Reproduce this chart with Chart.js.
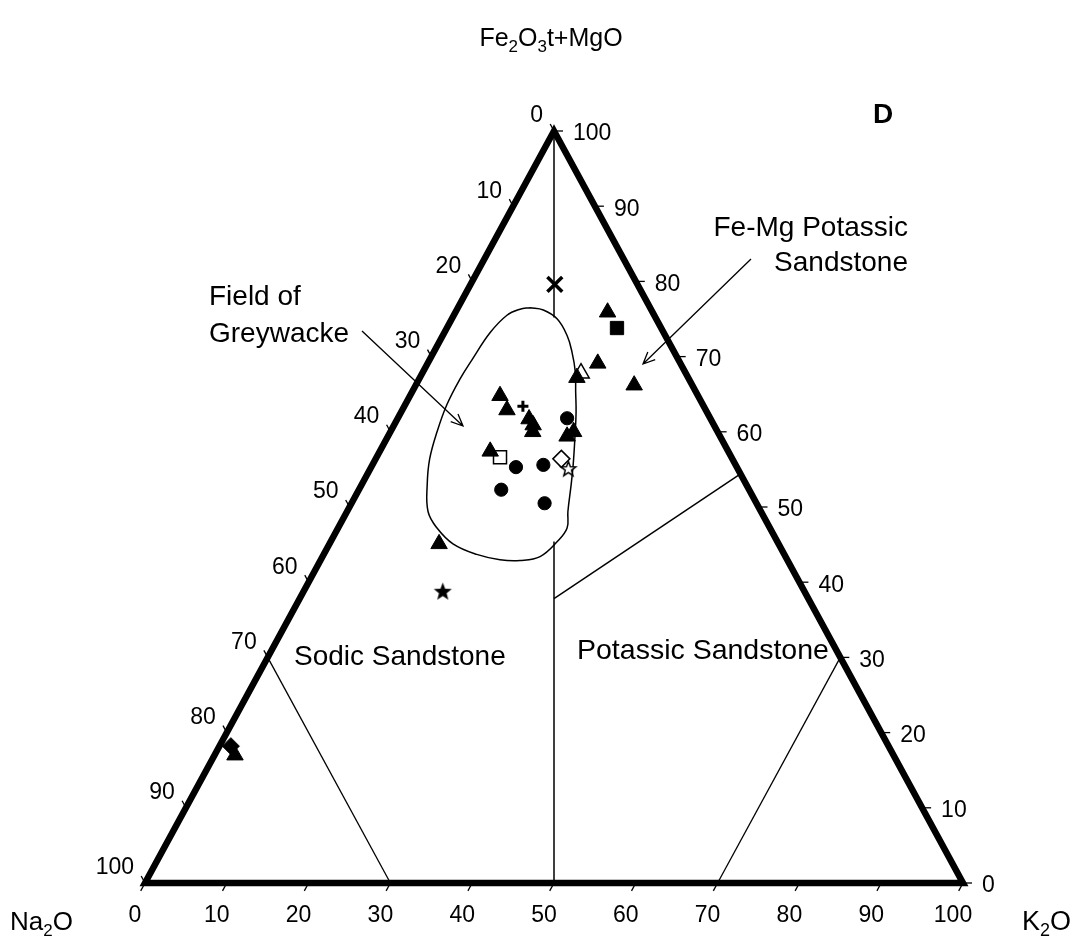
<!DOCTYPE html>
<html>
<head>
<meta charset="utf-8">
<script src="https://cdn.jsdelivr.net/npm/chart.js@4.4.1/dist/chart.umd.min.js"></script>
<style>
  html, body { margin: 0; padding: 0; background: #fff; }
  #wrap { width: 1076px; height: 947px; }
</style>
</head>
<body>
<div id="wrap"><canvas id="chart" width="1076" height="947"></canvas></div>
<script>
// Tick values shared by the three composition axes (wt%)
const ternaryTicks = [0, 10, 20, 30, 40, 50, 60, 70, 80, 90, 100];

// Samples as [Na2O, K2O, Fe2O3t+MgO], grouped by plotting symbol
const filledTriangles = [
  [5.5, 18.6, 75.9], [10.1, 20.8, 69.1], [13.6, 19.2, 67.2], [7.1, 26.7, 66.2],
  [24.2, 11.0, 64.8], [24.3, 12.8, 62.9], [22.2, 16.1, 61.7], [22.1, 17.0, 60.9],
  [22.6, 17.4, 60.0], [18.7, 21.9, 59.4], [17.6, 22.4, 60.0], [29.1, 13.5, 57.4],
  [41.5, 13.4, 45.1], [80.5, 2.5, 17.0]
];
const openTriangles = [[12.8, 19.4, 67.8]];
const filledSquares = [[5.4, 20.8, 73.8]];
const openSquares = [[28.3, 15.1, 56.6]];
const filledCircles = [
  [17.5, 20.7, 61.8], [27.0, 17.7, 55.3], [23.5, 20.9, 55.6], [30.3, 17.4, 52.3], [25.9, 23.6, 50.5]
];
const openDiamonds = [[20.9, 22.7, 56.4]];
const filledDiamonds = [[80.4, 1.4, 18.2]];
const openStars = [[20.7, 24.2, 55.1]];
const filledStars = [[44.2, 17.0, 38.8]];
const crosses = [[10.1, 10.3, 79.6]];
const plusSigns = [[22.1, 14.5, 63.4]];

// Outline of the greywacke field [Na2O, K2O, Fe2O3t+MgO]
const greywackeField = [
  [14.7, 8.8, 76.5], [13.2, 10.6, 76.2], [12.1, 12.9, 75.0], [12.0, 15.2, 72.8],
  [12.5, 16.9, 70.6], [13.4, 18.6, 68.0], [14.7, 20.0, 65.3], [16.0, 21.4, 62.6],
  [17.9, 23.0, 59.1], [19.8, 24.5, 55.7], [21.4, 25.6, 53.0], [23.6, 27.0, 49.4],
  [24.8, 28.0, 47.2], [26.9, 27.7, 45.4], [30.0, 26.6, 43.4], [32.7, 24.4, 42.9],
  [35.1, 21.9, 43.0], [37.6, 18.7, 43.7], [39.8, 15.1, 45.1], [40.7, 12.1, 47.2],
  [40.7, 9.9, 49.4], [39.0, 8.0, 53.0], [37.0, 6.6, 56.4], [34.3, 5.7, 60.0],
  [31.3, 5.1, 63.6], [28.0, 5.0, 67.0], [25.1, 5.2, 69.7], [21.2, 5.6, 73.2],
  [18.0, 6.5, 75.5], [16.0, 7.7, 76.3], [14.7, 8.8, 76.5]
];

// Frame and classification boundaries [Na2O, K2O, Fe2O3t+MgO]
const triangleFrame = [[50, 50, 0], [0, 100, 0], [0, 0, 100], [100, 0, 0], [50, 50, 0]];
const ratioLineUpper = [[0, 0, 100], [12.4, 12.4, 75.2]];
const ratioLineLower = [[27.3, 27.3, 45.4], [50, 50, 0]];
const feMgPotassicLine = [[31.1, 31.1, 37.8], [0, 45.6, 54.4]];
const sodicLine = [[70, 0, 30], [70, 30, 0]];
const potassicLine = [[0, 70, 30], [30, 70, 0]];

// ternary -> cartesian (x along the K2O base, y = Fe2O3t+MgO)
const toXY = p => ({ x: p[1] + p[2] / 2, y: p[2] });

function starImage(outer, inner, fill, stroke, lw) {
  const size = Math.ceil(outer * 2 + lw * 2 + 2);
  const c = document.createElement('canvas');
  c.width = size; c.height = size;
  const g = c.getContext('2d');
  const cx = size / 2, cy = size / 2 + outer * 0.08;
  g.beginPath();
  for (let i = 0; i < 10; i++) {
    const r = i % 2 === 0 ? outer : inner;
    const a = -Math.PI / 2 + i * Math.PI / 5;
    const px = cx + r * Math.cos(a), py = cy + r * Math.sin(a);
    if (i === 0) g.moveTo(px, py); else g.lineTo(px, py);
  }
  g.closePath();
  g.fillStyle = fill; g.fill();
  if (lw > 0) { g.strokeStyle = stroke; g.lineWidth = lw; g.lineJoin = 'miter'; g.stroke(); }
  return c;
}

function lineSet(points, width, tension) {
  return {
    data: points.map(toXY), showLine: true, pointRadius: 0, borderColor: '#000',
    borderWidth: width, tension: tension || 0, order: 2, clip: false,
    borderJoinStyle: tension ? 'round' : 'miter', borderCapStyle: 'butt'
  };
}

function markerSet(points, style, radius, fill, border, bw) {
  return {
    data: points.map(toXY), pointStyle: style, pointRadius: radius,
    pointBackgroundColor: fill, pointBorderColor: border, pointBorderWidth: bw,
    showLine: false, order: 1, clip: false
  };
}

const FONT = '"Liberation Sans", Arial, Helvetica, sans-serif';

function drawRich(ctx, parts, x, y, size, align) {
  const subSize = Math.round(size * 0.66);
  let total = 0;
  parts.forEach(p => {
    ctx.font = (p.sub ? subSize : size) + 'px ' + FONT;
    p.w = ctx.measureText(p.t).width;
    total += p.w;
  });
  let cx = align === 'center' ? x - total / 2 : align === 'right' ? x - total : x;
  ctx.textAlign = 'left';
  ctx.textBaseline = 'alphabetic';
  parts.forEach(p => {
    ctx.font = (p.sub ? subSize : size) + 'px ' + FONT;
    ctx.fillText(p.t, cx, p.sub ? y + size * 0.22 : y);
    cx += p.w;
  });
}

function arrow(ctx, x1, y1, x2, y2) {
  ctx.beginPath();
  ctx.moveTo(x1, y1); ctx.lineTo(x2, y2);
  const a = Math.atan2(y2 - y1, x2 - x1), L = 13, s = 0.42;
  ctx.moveTo(x2 - L * Math.cos(a - s), y2 - L * Math.sin(a - s));
  ctx.lineTo(x2, y2);
  ctx.lineTo(x2 - L * Math.cos(a + s), y2 - L * Math.sin(a + s));
  ctx.stroke();
}

const ternaryDecor = {
  id: 'ternaryDecor',
  afterDraw(chart) {
    const { ctx, scales: { x, y } } = chart;
    const pt = (k, f) => [x.getPixelForValue(k + f / 2), y.getPixelForValue(f)];
    ctx.save();
    ctx.fillStyle = '#000';
    ctx.strokeStyle = '#000';
    ctx.lineWidth = 1.3;
    ctx.font = '23px ' + FONT;
    const dl = [-0.476, 0.879];
    ternaryTicks.forEach(v => {
      // K2O along the base
      let [bx, by] = pt(v, 0);
      ctx.beginPath(); ctx.moveTo(bx, by); ctx.lineTo(bx + dl[0] * 9, by + dl[1] * 9); ctx.stroke();
      ctx.textAlign = 'center'; ctx.textBaseline = 'middle';
      ctx.fillText(String(v), bx - 10, by + 33);
      // Na2O along the left edge (0 at the apex)
      let [lx, ly] = pt(0, 100 - v);
      ctx.beginPath(); ctx.moveTo(lx, ly); ctx.lineTo(lx + dl[0] * 8, ly - dl[1] * 8); ctx.stroke();
      ctx.textAlign = 'right';
      ctx.fillText(String(v), lx - 11, ly - 15);
      // Fe2O3t+MgO along the right edge
      let [rx, ry] = pt(100 - v, v);
      ctx.beginPath(); ctx.moveTo(rx, ry); ctx.lineTo(rx + 9, ry); ctx.stroke();
      ctx.textAlign = 'left';
      ctx.fillText(String(v), rx + 19, ry + 3);
    });

    // apex and corner titles
    drawRich(ctx, [{ t: 'Fe' }, { t: '2', sub: true }, { t: 'O' }, { t: '3', sub: true }, { t: 't+MgO' }], 551, 46, 25, 'center');
    drawRich(ctx, [{ t: 'Na' }, { t: '2', sub: true }, { t: 'O' }], 10, 930, 26, 'left');
    drawRich(ctx, [{ t: 'K' }, { t: '2', sub: true }, { t: 'O' }], 1022, 930, 27, 'left');

    // panel letter
    ctx.font = 'bold 28px ' + FONT;
    ctx.textAlign = 'center'; ctx.textBaseline = 'middle';
    ctx.fillText('D', 883, 115);

    // field names
    ctx.font = '28px ' + FONT;
    ctx.textBaseline = 'middle';
    ctx.textAlign = 'left';
    ctx.fillText('Field of', 209, 297);
    ctx.fillText('Greywacke', 209, 334);
    ctx.fillText('Sodic Sandstone', 294, 657);
    ctx.font = '28.5px ' + FONT;
    ctx.fillText('Potassic Sandstone', 577, 651);
    ctx.font = '28px ' + FONT;
    ctx.textAlign = 'right';
    ctx.fillText('Fe-Mg Potassic', 908, 228);
    ctx.fillText('Sandstone', 908, 263);

    ctx.lineWidth = 1.3;
    arrow(ctx, 362, 331, 463, 426);
    arrow(ctx, 751, 259, 643, 364);
    ctx.restore();
  }
};

new Chart(document.getElementById('chart'), {
  type: 'scatter',
  data: {
    datasets: [
      markerSet(filledTriangles, 'triangle', 9.5, '#000', '#000', 1),
      markerSet(openTriangles, 'triangle', 9.5, '#fff', '#000', 1.5),
      markerSet(filledSquares, 'rect', 9.4, '#000', '#000', 1),
      markerSet(openSquares, 'rect', 9.2, '#fff', '#000', 1.5),
      markerSet(filledCircles, 'circle', 6.6, '#000', '#000', 1),
      markerSet(openDiamonds, 'rectRot', 8.5, '#fff', '#000', 1.5),
      markerSet(filledDiamonds, 'rectRot', 8.5, '#000', '#000', 1),
      markerSet(openStars, starImage(7.8, 3.3, '#fff', '#000', 1.5), 8, '#fff', '#000', 1),
      markerSet(filledStars, starImage(9.5, 4, '#000', '#000', 0), 9, '#000', '#000', 1),
      markerSet(crosses, 'crossRot', 10.5, '#000', '#000', 3.5),
      markerSet(plusSigns, 'cross', 5.5, '#000', '#000', 3),
      lineSet(greywackeField, 1.5, 0.4),
      lineSet(ratioLineUpper, 1.5),
      lineSet(ratioLineLower, 1.5),
      lineSet(feMgPotassicLine, 1.5),
      lineSet(sodicLine, 1.3),
      lineSet(potassicLine, 1.3),
      lineSet(triangleFrame, 6.5)
    ]
  },
  options: {
    responsive: false,
    animation: false,
    devicePixelRatio: 1,
    layout: { padding: { left: 145, right: 1076 - 963, top: 131, bottom: 947 - 883 } },
    scales: {
      x: { type: 'linear', min: 0, max: 100, display: false },
      y: { type: 'linear', min: 0, max: 100, display: false }
    },
    plugins: { legend: { display: false }, tooltip: { enabled: false } }
  },
  plugins: [ternaryDecor]
});
</script>
</body>
</html>
